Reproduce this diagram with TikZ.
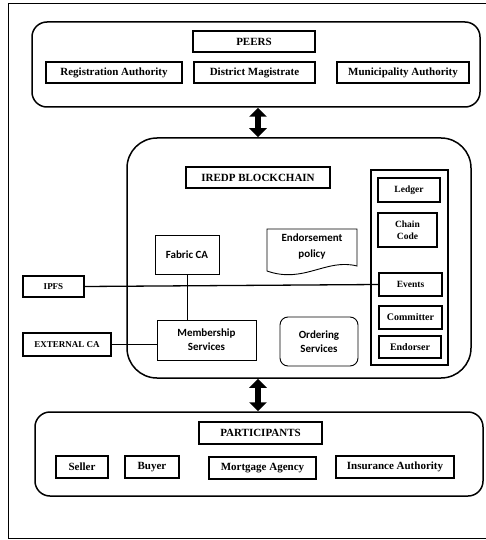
\documentclass[tikz,border=0pt]{standalone}
\usepackage{fontspec}
\setmainfont{Liberation Serif}
\newfontfamily\calfont{Carlito}
\usepackage{tikz}
\usetikzlibrary{calc, positioning, arrows.meta}

\begin{document}
\begin{tikzpicture}[x=1pt, y=-1pt,
        group/.style={draw, line width=1.5pt, rounded corners=15pt, inner sep=0pt},
        lbl/.style={draw, line width=1.2pt, inner sep=0pt, align=center, font=\fontsize{11}{12}\selectfont\bfseries},
        small/.style={lbl, font=\fontsize{9.5}{11.5}\selectfont\bfseries},
        sbox/.style={draw, line width=0.9pt, inner sep=0pt, align=center, font=\fontsize{11}{14}\selectfont\calfont\bfseries},
        bigarrow/.style={{Triangle[width=17pt,length=9pt]}-{Triangle[width=17pt,length=9pt]}, line width=6.5pt}]
        \useasboundingbox (0,0) rectangle (485,540);
        \draw[line width=1pt] (490,4) -- (8,4) -- (8,538) -- (490,538);
        % peers
        \node[group, minimum width=448pt, minimum height=85pt] (peers) at (256,64.5) {};
        \node[lbl, minimum width=122pt, minimum height=21pt] (peershead) at (254,41.5) {PEERS};
        \node[lbl, minimum width=136pt, minimum height=21pt] (regauth) at (114,72.5) {Registration Authority};
        \node[lbl, minimum width=121pt, minimum height=21pt] (distmag) at (254.5,72.5) {District Magistrate};
        \node[lbl, minimum width=132pt, minimum height=21pt] (muniauth) at (403,72.5) {Municipality Authority};
        % blockchain
        \node[group, rounded corners=30pt, minimum width=344pt, minimum height=240pt] (chain) at (299,258) {};
        \node[lbl, minimum width=144pt, minimum height=21pt] (chainhead) at (258,177.5) {IREDP BLOCKCHAIN};
        \node[draw, line width=1.2pt, minimum width=77pt, minimum height=195pt, inner sep=0pt] (column) at (409.5,267.5) {};
        \node[small, minimum width=62pt, minimum height=24pt] (ledger) at (409,190) {Ledger};
        \node[small, minimum width=59pt, minimum height=34pt] (chaincode) at (407.5,230) {Chain\\Code};
        \node[small, minimum width=63pt, minimum height=23pt] (events) at (410.5,284.5) {Events};
        \node[lbl, font=\fontsize{10}{12}\selectfont\bfseries, minimum width=63pt, minimum height=23pt] (committer) at (410.5,317.5) {Committer};
        \node[lbl, font=\fontsize{10}{12}\selectfont\bfseries, minimum width=62pt, minimum height=22pt] (endorser) at (410,347) {Endorser};
        \node[sbox, minimum width=64pt, minimum height=39pt] (fabricca) at (187,254.5) {Fabric CA};
        \node[font=\fontsize{11}{16}\selectfont\calfont\bfseries, align=center] (policy) at (312,247) {Endorsement\\policy};
        \draw[line width=0.9pt] (267,229) -- (357,229) -- (357,266)
            .. controls (326,258) and (304,284) .. (267,271) -- cycle;
        \node[sbox, minimum width=99pt, minimum height=40pt] (member) at (206.5,340) {Membership\\Services};
        \node[sbox, rounded corners=8pt, minimum width=78pt, minimum height=49pt] (ordering) at (319,341.5) {Ordering\\Services};
        % outside the chain
        \node[lbl, font=\fontsize{9}{10.5}\selectfont\bfseries, minimum width=61pt, minimum height=21pt] (ipfs) at (53.5,286.5) {IPFS};
        \node[lbl, font=\fontsize{9}{10.5}\selectfont\bfseries, minimum width=88pt, minimum height=23pt] (extca) at (67,344.5) {EXTERNAL CA};
        \draw[line width=1.3pt] (ipfs.east) -- (events.west);
        \draw[line width=0.7pt] (fabricca.south) -- (fabricca.south |- member.north);
        \draw[line width=0.7pt] (extca.east) -- (extca.east -| member.west);
        % participants
        \node[group, minimum width=448pt, minimum height=84pt] (participants) at (259,454) {};
        \node[lbl, minimum width=123pt, minimum height=22pt] (parthead) at (260.5,433) {PARTICIPANTS};
        \node[lbl, minimum width=52pt, minimum height=22pt] (seller) at (82,467) {Seller};
        \node[lbl, minimum width=54pt, minimum height=22pt] (buyer) at (152,467) {Buyer};
        \node[lbl, minimum width=107pt, minimum height=22pt] (mortgage) at (262.5,468) {Mortgage Agency};
        \node[lbl, minimum width=118pt, minimum height=22pt] (insurance) at (395,467) {Insurance Authority};
        \draw[bigarrow] (chainhead |- peers.south) -- (chainhead |- chain.north);
        \draw[bigarrow] (chainhead |- chain.south) -- (chainhead |- participants.north);
      \end{tikzpicture}
\end{document}
